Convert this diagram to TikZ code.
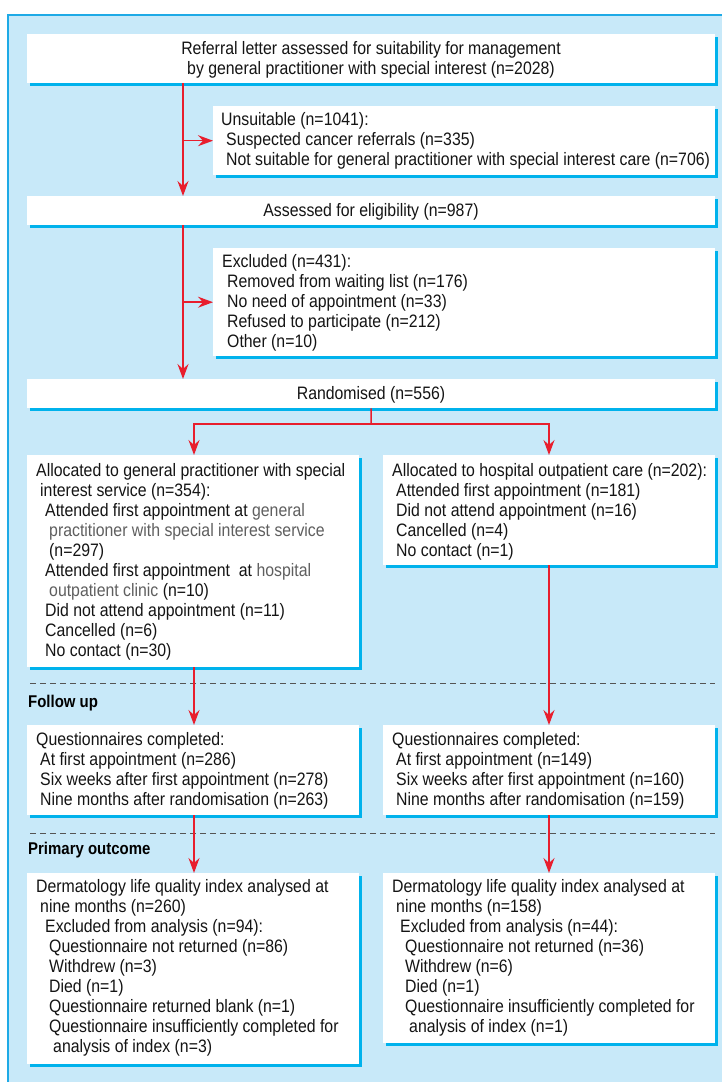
\documentclass[tikz,border=0pt]{standalone}
\usepackage{fontspec}
\setmainfont{Liberation Sans}[FakeStretch=0.88]
\usetikzlibrary{arrows.meta,shadows}
\definecolor{panel}{RGB}{200,233,249}
\definecolor{panelborder}{RGB}{30,170,230}
\definecolor{shadowblue}{RGB}{0,178,236}
\definecolor{arrowred}{RGB}{232,30,45}
\definecolor{dashgrey}{RGB}{85,85,85}
\definecolor{txt}{RGB}{20,20,20}
\definecolor{lighttxt}{RGB}{95,95,95}
\newcommand{\gr}[1]{{\color{lighttxt}#1}}
\newcommand{\ind}[1]{\hspace*{#1pt}}
\tikzset{
  box/.style={fill=white, draw=none, anchor=north west, inner sep=0pt,
    general shadow={fill=shadowblue, shadow xshift=3pt, shadow yshift=-3pt}},
  lbl/.style={anchor=north west, inner sep=0pt, align=left, text=txt,
    font=\fontsize{18}{20}\selectfont},
  clbl/.style={anchor=north, inner sep=0pt, align=center, text=txt,
    font=\fontsize{18}{20}\selectfont},
  head/.style={anchor=north west, inner sep=0pt, text=black,
    font=\fontsize{17}{20}\selectfont\bfseries},
  flow/.style={draw=arrowred, line width=1.5pt,
    -{Stealth[length=15pt,width=11pt,inset=5pt]}},
  plain/.style={draw=arrowred, line width=1.5pt},
  sep/.style={draw=dashgrey, line width=1pt, dash pattern=on 6pt off 4pt}
}
\begin{document}
\begin{tikzpicture}[x=1pt,y=-1pt]
\useasboundingbox (0,0) rectangle (722,1082);
% panel
\fill[panel] (8,15) rectangle (722,1082);
\draw[panelborder, line width=1.2pt] (8,1082) -- (8,15) -- (722,15);

% boxes
\node[box, minimum width=688pt, minimum height=49pt] (b1) at (27,34) {};
\node[box, minimum width=502pt, minimum height=69pt] (b2) at (213,106) {};
\node[box, minimum width=688pt, minimum height=29pt] (b3) at (27,196) {};
\node[box, minimum width=502pt, minimum height=108pt] (b4) at (213,248) {};
\node[box, minimum width=688pt, minimum height=29pt] (b5) at (27,379) {};
\node[box, minimum width=332pt, minimum height=212pt] (b6) at (27,455) {};
\node[box, minimum width=332pt, minimum height=110pt] (b7) at (383,455) {};
\node[box, minimum width=332pt, minimum height=90pt] (b8) at (27,725) {};
\node[box, minimum width=332pt, minimum height=90pt] (b9) at (383,725) {};
\node[box, minimum width=332pt, minimum height=191pt] (b10) at (27,873) {};
\node[box, minimum width=332pt, minimum height=170pt] (b11) at (383,873) {};

% texts
\node[clbl] (t1) at (371,40) {\strut Referral letter assessed for suitability for management\\
 by general practitioner with special interest (n=2028)};
\node[lbl] (t2) at (221,111) {\strut Unsuitable (n=1041):\\
\ind{5}Suspected cancer referrals (n=335)\\
\ind{5}Not suitable for general practitioner with special interest care (n=706)};
\node[clbl] (t3) at (371,202) {\strut Assessed for eligibility (n=987)};
\node[lbl] (t4) at (222,253) {\strut Excluded (n=431):\\
\ind{5}Removed from waiting list (n=176)\\
\ind{5}No need of appointment (n=33)\\
\ind{5}Refused to participate (n=212)\\
\ind{5}Other (n=10)};
\node[clbl] (t5) at (371,385) {\strut Randomised (n=556)};
\node[lbl] (t6) at (36,462) {\strut Allocated to general practitioner with special\\
\ind{4}interest service (n=354):\\
\ind{9}Attended first appointment at \gr{general}\\
\ind{13}\gr{practitioner with special interest service}\\
\ind{13}(n=297)\\
\ind{9}Attended first appointment\ \ at \gr{hospital}\\
\ind{13}\gr{outpatient clinic} (n=10)\\
\ind{9}Did not attend appointment (n=11)\\
\ind{9}Cancelled (n=6)\\
\ind{9}No contact (n=30)};
\node[lbl] (t7) at (392,462) {\strut Allocated to hospital outpatient care (n=202):\\
\ind{4}Attended first appointment (n=181)\\
\ind{4}Did not attend appointment (n=16)\\
\ind{4}Cancelled (n=4)\\
\ind{4}No contact (n=1)};
\node[lbl] (t8) at (36,731) {\strut Questionnaires completed:\\
\ind{4}At first appointment (n=286)\\
\ind{4}Six weeks after first appointment (n=278)\\
\ind{4}Nine months after randomisation (n=263)};
\node[lbl] (t9) at (392,731) {\strut Questionnaires completed:\\
\ind{4}At first appointment (n=149)\\
\ind{4}Six weeks after first appointment (n=160)\\
\ind{4}Nine months after randomisation (n=159)};
\node[lbl] (t10) at (36,878) {\strut Dermatology life quality index analysed at\\
\ind{4}nine months (n=260)\\
\ind{9}Excluded from analysis (n=94):\\
\ind{13}Questionnaire not returned (n=86)\\
\ind{13}Withdrew (n=3)\\
\ind{13}Died (n=1)\\
\ind{13}Questionnaire returned blank (n=1)\\
\ind{13}Questionnaire insufficiently completed for\\
\ind{17}analysis of index (n=3)};
\node[lbl] (t11) at (392,878) {\strut Dermatology life quality index analysed at\\
\ind{4}nine months (n=158)\\
\ind{8}Excluded from analysis (n=44):\\
\ind{13}Questionnaire not returned (n=36)\\
\ind{13}Withdrew (n=6)\\
\ind{13}Died (n=1)\\
\ind{13}Questionnaire insufficiently completed for\\
\ind{17}analysis of index (n=1)};

% section headings and separators
\coordinate (s1l) at (30,683);
\coordinate (s1r) at (715,683);
\coordinate (s2l) at (30,833);
\coordinate (s2r) at (715,833);
\draw[sep] (s1l) -- (s1r);
\draw[sep] (s2l) -- (s2r);
\node[head] (h1) at (28,693) {\strut Follow up};
\node[head] (h2) at (28,840) {\strut Primary outcome};

% connectors
\coordinate (spine) at (183,0);
\coordinate (lcol) at (194,0);
\coordinate (rcol) at (549,0);
\coordinate (split) at (371,424);
\draw[flow] (b1.south -| spine) -- (b3.north -| spine);
\draw[flow] (spine |- b2.west) -- (b2.west);
\draw[flow] (b3.south -| spine) -- (b5.north -| spine);
\draw[flow] (spine |- b4.west) -- (b4.west);
\draw[plain] (b5.south) -- (split);
\draw[flow] (split) -| (b6.north -| lcol);
\draw[flow] (split) -| (b7.north -| rcol);
\draw[flow] (b6.south -| lcol) -- (b8.north -| lcol);
\draw[flow] (b7.south -| rcol) -- (b9.north -| rcol);
\draw[flow] (b8.south -| lcol) -- (b10.north -| lcol);
\draw[flow] (b9.south -| rcol) -- (b11.north -| rcol);
\end{tikzpicture}
\end{document}
